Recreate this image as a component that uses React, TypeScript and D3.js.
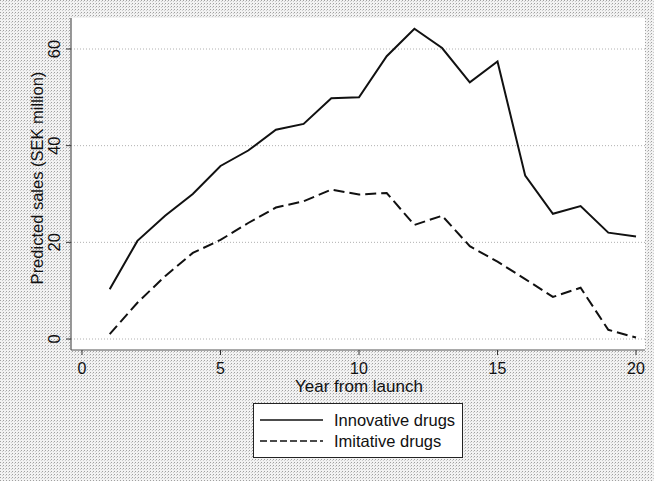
import { useEffect, useRef } from "react";
import * as d3 from "d3";

const years = [1, 2, 3, 4, 5, 6, 7, 8, 9, 10, 11, 12, 13, 14, 15, 16, 17, 18, 19, 20];
const innovative = [10.3, 20.3, 25.5, 30, 35.8, 39, 43.3, 44.5, 49.8, 50, 58.5, 64.2, 60.2, 53.1, 57.4, 33.8, 25.9, 27.5, 22, 21.2];
const imitative = [1, 7.5, 13, 17.8, 20.5, 24, 27.2, 28.5, 30.9, 29.9, 30.2, 23.6, 25.5, 19.2, 16, 12.4, 8.7, 10.6, 1.9, 0.3];
const xTicks = [0, 5, 10, 15, 20];
const yTicks = [0, 20, 40, 60];
const seriesNames = ["Innovative drugs", "Imitative drugs"];

export default function App() {
  const svgRef = useRef<SVGSVGElement>(null);

  useEffect(() => {
    const svg = d3.select(svgRef.current);
    svg.selectAll("*").remove();
    const W = 654, H = 481;
    svg.attr("width", W).attr("height", H);

    // halftone-ish background
    const defs = svg.append("defs");
    const pat = defs.append("pattern").attr("id", "dots").attr("width", 3).attr("height", 3).attr("patternUnits", "userSpaceOnUse");
    pat.append("rect").attr("width", 3).attr("height", 3).attr("fill", "#f2f2f2");
    pat.append("rect").attr("width", 1).attr("height", 1).attr("fill", "#a0a0a0");
    pat.append("rect").attr("x", 2).attr("y", 1).attr("width", 1).attr("height", 1).attr("fill", "#cccccc");
    svg.append("rect").attr("width", W).attr("height", H).attr("fill", "url(#dots)");

    const plot = { left: 71, top: 18, right: 645, bottom: 350 };
    svg.append("rect")
      .attr("x", plot.left).attr("y", plot.top)
      .attr("width", plot.right - plot.left).attr("height", plot.bottom - plot.top)
      .attr("fill", "#fff");

    const x = d3.scaleLinear().domain([0, 20]).range([82, 636]);
    const y = d3.scaleLinear().domain([0, 60]).range([339, 49]);

    // grid
    svg.append("g").selectAll("line").data(yTicks).join("line")
      .attr("x1", plot.left).attr("x2", plot.right)
      .attr("y1", d => y(d)).attr("y2", d => y(d))
      .attr("stroke", "#b0b0b0").attr("stroke-width", 1)
      .attr("stroke-dasharray", "1,2");

    // axes
    const font = "'Liberation Sans', Arial, sans-serif";
    svg.append("line").attr("x1", plot.left).attr("x2", plot.left)
      .attr("y1", plot.top).attr("y2", plot.bottom).attr("stroke", "#555").attr("stroke-width", 1.2);
    svg.append("line").attr("x1", plot.left).attr("x2", plot.right)
      .attr("y1", plot.bottom).attr("y2", plot.bottom).attr("stroke", "#555").attr("stroke-width", 1.2);

    svg.append("g").selectAll("line").data(yTicks).join("line")
      .attr("x1", plot.left - 5).attr("x2", plot.left)
      .attr("y1", d => y(d)).attr("y2", d => y(d)).attr("stroke", "#333");
    svg.append("g").selectAll("text").data(yTicks).join("text")
      .attr("transform", d => `translate(60,${y(d)}) rotate(-90)`)
      .attr("text-anchor", "middle")
      .attr("font-family", font).attr("font-size", 16.5).attr("fill", "#111")
      .text(d => d);

    svg.append("g").selectAll("line").data(xTicks).join("line")
      .attr("x1", d => x(d)).attr("x2", d => x(d))
      .attr("y1", plot.bottom).attr("y2", plot.bottom + 5).attr("stroke", "#333");
    svg.append("g").selectAll("text").data(xTicks).join("text")
      .attr("x", d => x(d)).attr("y", 374)
      .attr("text-anchor", "middle")
      .attr("font-family", font).attr("font-size", 16).attr("fill", "#111")
      .text(d => d);

    svg.append("text").attr("x", 359).attr("y", 392).attr("text-anchor", "middle")
      .attr("font-family", font).attr("font-size", 17).attr("fill", "#111")
      .text("Year from launch");
    svg.append("text").attr("transform", `translate(43,178) rotate(-90)`)
      .attr("text-anchor", "middle")
      .attr("font-family", font).attr("font-size", 16.5).attr("fill", "#111")
      .text("Predicted sales (SEK million)");

    // lines
    const line = d3.line<number>().x((_, i) => x(years[i])).y(d => y(d));
    svg.append("path").datum(innovative).attr("d", line)
      .attr("fill", "none").attr("stroke", "#111").attr("stroke-width", 2);
    svg.append("path").datum(imitative).attr("d", line)
      .attr("fill", "none").attr("stroke", "#111").attr("stroke-width", 2)
      .attr("stroke-dasharray", "11,5");

    // legend
    const lg = svg.append("g");
    lg.append("rect").attr("x", 253.5).attr("y", 403.5).attr("width", 209).attr("height", 54)
      .attr("fill", "#fff").attr("stroke", "#222").attr("stroke-width", 1);
    seriesNames.forEach((name, i) => {
      const ly = 420 + i * 21;
      lg.append("line").attr("x1", 260).attr("x2", 323).attr("y1", ly).attr("y2", ly)
        .attr("stroke", "#111").attr("stroke-width", 1.5)
        .attr("stroke-dasharray", i === 1 ? "7,3" : null);
      lg.append("text").attr("x", 334).attr("y", ly + 6)
        .attr("font-family", font).attr("font-size", 16.5).attr("fill", "#111")
        .text(name);
    });
  }, []);

  return <svg ref={svgRef} style={{ position: "absolute", left: 0, top: 0 }} />;
}
